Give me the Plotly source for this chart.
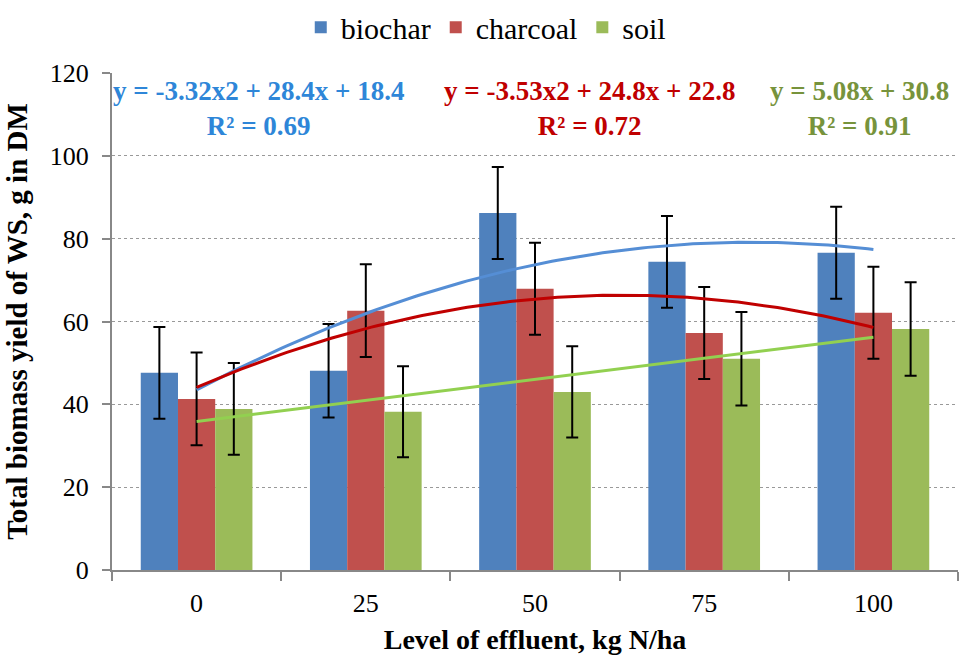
import numpy as np
import plotly.graph_objects as go

# ---- data ----
levels = ["0", "25", "50", "75", "100"]
biochar = [47.6, 48.1, 86.2, 74.4, 76.6]
charcoal = [41.3, 62.6, 67.9, 57.2, 62.1]
soil = [38.9, 38.2, 43.0, 51.0, 58.2]
biochar_err = [11.1, 11.3, 11.1, 11.1, 11.1]
charcoal_err = [11.2, 11.2, 11.1, 11.1, 11.1]
soil_err = [11.1, 11.0, 11.0, 11.3, 11.3]

# trendline coefficients (highest power first), as printed on the chart
biochar_fit = [-3.32, 28.4, 18.4]
charcoal_fit = [-3.53, 24.8, 22.8]
soil_fit = [5.08, 30.8]

eq_texts = ["y = -3.32x2 + 28.4x + 18.4<br>R² = 0.69",
            "y = -3.53x2 + 24.8x + 22.8<br>R² = 0.72",
            "y = 5.08x + 30.8<br>R² = 0.91"]

FONT = "Liberation Serif"
bar_colors = ["#4F81BD", "#C0504D", "#9BBB59"]
line_colors = ["#558ED5", "#C00000", "#92D050"]
text_colors = ["#2E86D8", "#C00000", "#77933C"]

xpos = list(range(len(levels)))

fig = go.Figure()
for name, vals, err, col in [("biochar", biochar, biochar_err, bar_colors[0]),
                             ("charcoal", charcoal, charcoal_err, bar_colors[1]),
                             ("soil", soil, soil_err, bar_colors[2])]:
    fig.add_trace(go.Bar(
        x=xpos, y=vals, name=name, marker=dict(color=col, line=dict(width=0)),
        error_y=dict(type="data", array=err, visible=True, color="black",
                     thickness=2, width=6),
    ))

# trendlines (Excel uses x = 1..n for categories)
t = np.linspace(1, len(levels), 121)
for coefs, col in [(biochar_fit, line_colors[0]),
                   (charcoal_fit, line_colors[1]),
                   (soil_fit, line_colors[2])]:
    fig.add_trace(go.Scatter(
        x=t - 1, y=np.polyval(coefs, t), mode="lines",
        line=dict(color=col, width=3), showlegend=False, hoverinfo="skip",
    ))

# equation labels
eq_x = [0.173, 0.564, 0.884]
for txt, col, xx in zip(eq_texts, text_colors, eq_x):
    fig.add_annotation(
        text=txt, x=xx, xref="paper", y=111.4, yref="y", xanchor="center",
        yanchor="middle", showarrow=False, align="center",
        font=dict(family=FONT, size=27, color=col, weight="bold"),
    )

fig.update_layout(
    width=960, height=662,
    margin=dict(l=112, r=2, t=73, b=92),
    paper_bgcolor="white", plot_bgcolor="white",
    barmode="group", bargap=0.34, bargroupgap=0,
    font=dict(family=FONT, size=26, color="black"),
    legend=dict(orientation="h", xref="container", yref="container",
                x=0.506, y=0.998, xanchor="center", yanchor="top",
                font=dict(family=FONT, size=30), itemwidth=30,
                traceorder="normal"),
    showlegend=True,
)

fig.update_xaxes(
    range=[-0.5, len(levels) - 0.5],
    tickmode="array", tickvals=xpos, ticktext=levels,
    ticks="", showgrid=False, zeroline=False,
    showline=True, linecolor="#888888", linewidth=2,
    minor=dict(tick0=-0.5, dtick=1, ticks="outside", ticklen=9,
               tickcolor="#888888", tickwidth=2, showgrid=False),
    tickfont=dict(family=FONT, size=26),
    ticklabelstandoff=9,
    title=dict(text="Level of effluent, kg N/ha",
               font=dict(family=FONT, size=28, weight="bold"), standoff=12),
)
fig.update_yaxes(
    range=[0, 120], dtick=20, tick0=0,
    ticks="outside", ticklen=8, tickcolor="#888888", tickwidth=2,
    showline=True, linecolor="#888888", linewidth=2,
    showgrid=True, gridcolor="#999999", griddash="dot", gridwidth=1,
    zeroline=False,
    tickfont=dict(family=FONT, size=26),
    ticklabelstandoff=8,
    title=dict(text="Total biomass yield of WS, g in DM",
               font=dict(family=FONT, size=29, weight="bold"), standoff=14),
)

fig.write_html("out.html")
